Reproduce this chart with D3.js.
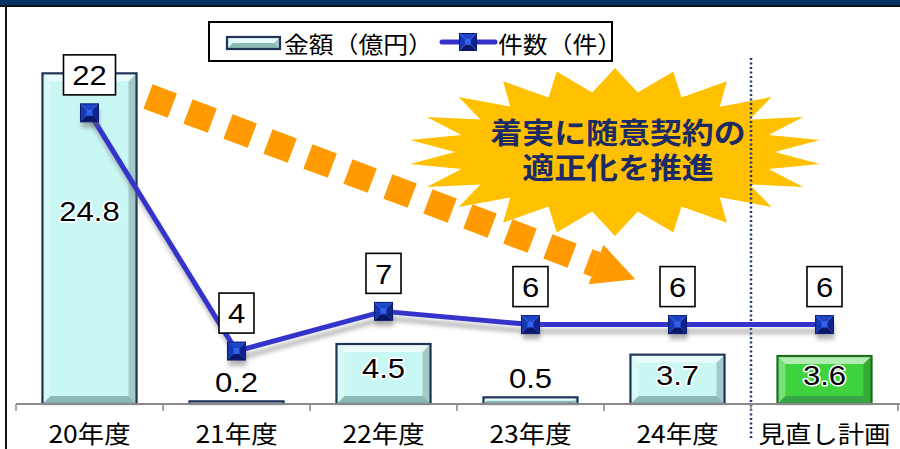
<!DOCTYPE html>
<html>
<head>
<meta charset="utf-8">
<script src="https://cdn.jsdelivr.net/npm/d3@7"></script>
<style>
  html, body { margin: 0; padding: 0; background: #fff; }
  svg { display: block; }
</style>
</head>
<body>
<svg id="chart" width="900" height="449"></svg>
<script>
// ---- data ----
const categories = ["20年度", "21年度", "22年度", "23年度", "24年度", "見直し計画"];
const amounts = [24.8, 0.2, 4.5, 0.5, 3.7, 3.6];   // 金額（億円）
const counts = [22, 4, 7, 6, 6, 6];                // 件数（件）
const legendLabels = ["金額（億円）", "件数（件）"];
const calloutLines = ["着実に随意契約の", "適正化を推進"];
const planCategory = "見直し計画";

// ---- layout ----
const W = 900, H = 449;
const baseY = 404;
const JP = "'Noto Sans CJK JP', 'Noto Sans', sans-serif";
const NUM = "'Liberation Sans', Arial, sans-serif";
const SX = 1.15; // horizontal text stretch

const svg = d3.select("#chart");
const defs = svg.append("defs");

const blur = defs.append("filter").attr("id", "shadow")
  .attr("x", "-20%").attr("y", "-50%").attr("width", "140%").attr("height", "200%");
blur.append("feGaussianBlur").attr("stdDeviation", 2.2);

const x = d3.scaleBand().domain(categories).range([16, 898])
  .paddingInner(0.36).paddingOuter(0.18);
const yAmt = d3.scaleLinear().domain([0, 30]).range([baseY, 4]);
const yCnt = d3.scaleLinear().domain([0, 30]).range([baseY, 7]);
const cx = c => x(c) + x.bandwidth() / 2;
const step = x.step();
const edgeOf = i => x(categories[0]) - step * x.paddingInner() / 2 + i * step;

// stretched text helper
function stext(g, tx, ty, str, opts) {
  const t = g.append("g").attr("transform", `translate(${tx},${ty})`)
    .append("text")
    .attr("transform", `scale(${opts.sx || SX},1)`)
    .attr("text-anchor", opts.anchor || "middle")
    .attr("dominant-baseline", "central")
    .attr("font-family", opts.family || NUM)
    .attr("font-size", opts.size)
    .attr("font-weight", opts.weight || "normal")
    .attr("fill", opts.fill || "#000")
    .text(str);
  if (opts.halo) {
    t.attr("stroke", "#fff").attr("stroke-width", opts.halo)
      .attr("paint-order", "stroke").attr("stroke-linejoin", "round");
  }
  return t;
}

// ---- frame ----
svg.append("rect").attr("x", 0).attr("y", 0).attr("width", W).attr("height", 6).attr("fill", "#033366");
svg.append("rect").attr("x", 0).attr("y", 5).attr("width", W).attr("height", 2).attr("fill", "#111");
svg.append("rect").attr("x", 5).attr("y", 5).attr("width", 2).attr("height", H).attr("fill", "#111");

// ---- bevelled bar ----
function bevelBar(g, bx, by, bw, bh, fill, stroke) {
  const b = Math.min(8, bh / 2, bw / 2);
  g.append("rect").attr("x", bx).attr("y", by).attr("width", bw).attr("height", bh).attr("fill", fill);
  const P = (pts, col, op) => g.append("polygon")
    .attr("points", pts.map(p => p.join(",")).join(" "))
    .attr("fill", col).attr("opacity", op);
  const x0 = bx, x1 = bx + bw, y0 = by, y1 = by + bh;
  P([[x0, y0], [x1, y0], [x1 - b, y0 + b], [x0 + b, y0 + b]], "#ffffff", 0.6);
  P([[x0, y0], [x0 + b, y0 + b], [x0 + b, y1 - b], [x0, y1]], "#ffffff", 0.3);
  P([[x1, y0], [x1, y1], [x1 - b, y1 - b], [x1 - b, y0 + b]], "#000000", 0.18);
  P([[x0, y1], [x0 + b, y1 - b], [x1 - b, y1 - b], [x1, y1]], "#2f5f5a", 0.4);
  g.append("rect").attr("x", bx).attr("y", by).attr("width", bw).attr("height", bh)
    .attr("fill", "none").attr("stroke", stroke).attr("stroke-width", 2.2);
}

// ---- pyramid marker ----
function marker(g, mx, my, s) {
  const h = s / 2;
  const a = [mx - h, my - h], b = [mx + h, my - h], c = [mx + h, my + h], d = [mx - h, my + h], m = [mx, my];
  const tri = (p, col) => g.append("polygon").attr("points", p.map(q => q.join(",")).join(" ")).attr("fill", col);
  tri([a, b, m], "#1f46c8");
  tri([a, d, m], "#1538b4");
  tri([b, c, m], "#0c2390");
  tri([d, c, m], "#08176a");
  g.append("rect").attr("x", mx - 3).attr("y", my - 3).attr("width", 6).attr("height", 6)
    .attr("fill", "#3a6cff").attr("opacity", 0.8);
  g.append("rect").attr("x", mx - h).attr("y", my - h).attr("width", s).attr("height", s)
    .attr("fill", "none").attr("stroke", "#0a1a70").attr("stroke-width", 1);
}

// ---- legend ----
const lg = svg.append("g");
lg.append("rect").attr("x", 209).attr("y", 22).attr("width", 403).attr("height", 39)
  .attr("fill", "#fff").attr("stroke", "#000").attr("stroke-width", 2);
bevelBar(lg.append("g"), 227, 37, 53, 12, "#c9f5f2", "#1f3558");
stext(lg, 284, 43, legendLabels[0], { family: JP, size: 23, anchor: "start", sx: 1.08 });
lg.append("line").attr("x1", 442).attr("x2", 495).attr("y1", 42).attr("y2", 42)
  .attr("stroke", "#3333cc").attr("stroke-width", 5).attr("stroke-linecap", "round");
marker(lg, 468, 42, 17);
stext(lg, 498, 43, legendLabels[1], { family: JP, size: 23, anchor: "start", sx: 1.08 });

// ---- orange arrow annotation ----
const aStart = [148, 96.5], aBase = [596, 264.5];
const ang = Math.atan2(aBase[1] - aStart[1], aBase[0] - aStart[0]);
const ux = Math.cos(ang), uy = Math.sin(ang), px = -uy, py = ux;
svg.append("line")
  .attr("x1", aStart[0]).attr("y1", aStart[1]).attr("x2", aBase[0]).attr("y2", aBase[1])
  .attr("stroke", "#ff9a00").attr("stroke-width", 26).attr("stroke-dasharray", "26 16.7");
svg.append("polygon")
  .attr("points", [
    [aBase[0] + px * 21, aBase[1] + py * 21],
    [aBase[0] - px * 21, aBase[1] - py * 21],
    [aBase[0] + ux * 42, aBase[1] + uy * 42]
  ].map(p => p.join(",")).join(" "))
  .attr("fill", "#ff9a00");

// ---- starburst callout ----
const sc = [615, 152], nSpikes = 22;
const starPts = d3.range(nSpikes * 2).map(i => {
  const t = -Math.PI / 2 + i * Math.PI / nSpikes;
  const outer = i % 2 === 0;
  const rx = outer ? 207 : 160, ry = outer ? 84 : 60;
  return [sc[0] + rx * Math.cos(t), sc[1] + ry * Math.sin(t)];
});
svg.append("polygon").attr("points", starPts.map(p => p.join(",")).join(" "))
  .attr("fill", "#ffc000");
// two-line callout text as one text block
const callout = svg.append("g").attr("transform", `translate(${sc[0] + 3},132)`)
  .append("text")
  .attr("transform", "scale(1.1,1)")
  .attr("text-anchor", "middle")
  .attr("dominant-baseline", "central")
  .attr("font-family", JP).attr("font-size", 29).attr("font-weight", "bold")
  .attr("fill", "#1c2a66");
calloutLines.forEach((s, i) => {
  callout.append("tspan").attr("x", 0).attr("dy", i === 0 ? 0 : 35)
    .attr("dominant-baseline", "central").text(s);
});

// ---- separator before plan ----
const sepX = edgeOf(5);
svg.append("line").attr("x1", sepX).attr("x2", sepX).attr("y1", 58).attr("y2", 440)
  .attr("stroke", "#1f3a80").attr("stroke-width", 2.5).attr("stroke-dasharray", "2 2.5");

// ---- bars ----
const barG = svg.append("g");
categories.forEach((c, i) => {
  const isPlan = c === planCategory;
  const top = yAmt(amounts[i]);
  bevelBar(barG.append("g"), x(c), top, x.bandwidth(), baseY - top,
    isPlan ? "#3fd23f" : "#c9f7f4", isPlan ? "#1d6e1d" : "#1f3558");
});

// ---- x axis ----
const axG = svg.append("g");
axG.append("line").attr("x1", 16).attr("x2", 900).attr("y1", baseY).attr("y2", baseY)
  .attr("stroke", "#8a8a8a").attr("stroke-width", 2);
d3.range(categories.length + 1).forEach(i => {
  axG.append("line").attr("x1", edgeOf(i)).attr("x2", edgeOf(i))
    .attr("y1", baseY).attr("y2", baseY + 7).attr("stroke", "#8a8a8a").attr("stroke-width", 1.5);
});
const xAxis = d3.axisBottom(x).tickSize(0).tickPadding(0);
const axisG = svg.append("g").attr("transform", `translate(0,${baseY})`).call(xAxis);
axisG.select(".domain").remove();
axisG.selectAll(".tick text").remove();
axisG.selectAll(".tick").each(function (c) {
  stext(d3.select(this), 0, 29, c, { family: JP, size: 24, sx: 1.1 });
});

// ---- bar value labels ----
categories.forEach((c, i) => {
  const top = yAmt(amounts[i]);
  const h = baseY - top;
  const ly = h > 30 ? baseY - h * 0.58 : top - 19;
  stext(svg, cx(c), ly, d3.format(".1f")(amounts[i]), { size: 27, halo: 3 });
});

// ---- count line ----
const line = d3.line().x((d, i) => cx(categories[i])).y(d => yCnt(d));
svg.append("path").datum(counts).attr("d", line).attr("transform", "translate(2,7)")
  .attr("fill", "none").attr("stroke", "#777").attr("stroke-width", 5).attr("opacity", 0.5)
  .attr("filter", "url(#shadow)");
svg.append("path").datum(counts).attr("d", line)
  .attr("fill", "none").attr("stroke", "#3434cc").attr("stroke-width", 5).attr("stroke-linejoin", "round");
const mG = svg.append("g");
counts.forEach((v, i) => {
  const mx = cx(categories[i]), my = yCnt(v);
  mG.append("rect").attr("x", mx - 8).attr("y", my - 3).attr("width", 18).attr("height", 18)
    .attr("fill", "#666").attr("opacity", 0.45).attr("filter", "url(#shadow)");
  marker(mG, mx, my, 18);
});

// ---- count labels ----
counts.forEach((v, i) => {
  const mx = cx(categories[i]), my = yCnt(v);
  const s = String(v);
  const bw = 18 + s.length * 17, bh = 40;
  const by = my - 18 - bh;
  svg.append("rect").attr("x", mx - bw / 2).attr("y", by).attr("width", bw).attr("height", bh)
    .attr("fill", "#fff").attr("stroke", "#000").attr("stroke-width", 1.6);
  stext(svg, mx, by + bh / 2 + 1, s, { size: 27 });
});
</script>
</body>
</html>
